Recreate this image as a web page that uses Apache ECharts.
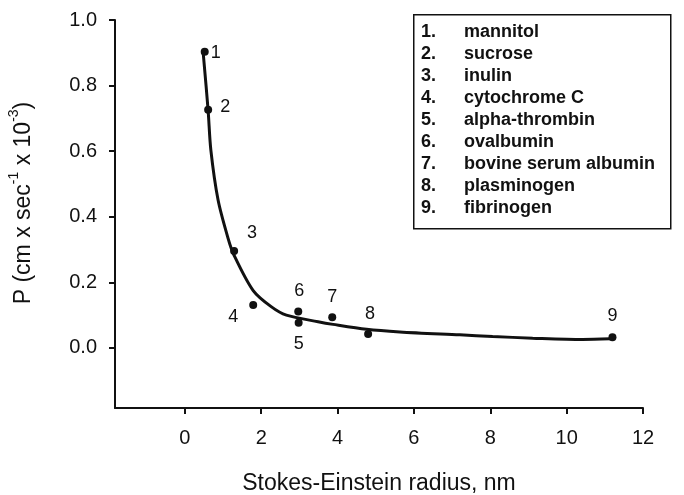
<!DOCTYPE html>
<html>
<head>
<meta charset="utf-8">
<script src="https://cdn.jsdelivr.net/npm/echarts@6/dist/echarts.min.js"></script>
<style>
  html, body { margin: 0; padding: 0; background: #fff; }
  #chart { width: 684px; height: 495px; }
</style>
</head>
<body>
<div id="chart"></div>
<script>
  // measured points (Stokes-Einstein radius nm, P)
  const pointIds = ['1', '2', '3', '4', '5', '6', '7', '8', '9'];
  const radius = [0.52, 0.61, 1.29, 1.79, 2.98, 2.97, 3.86, 4.80, 11.2];
  const permeability = [0.903, 0.726, 0.296, 0.131, 0.077, 0.111, 0.094, 0.043, 0.033];

  // fitted curve
  const fitRadius = [0.48, 0.61, 0.68, 0.87, 1.13, 1.28, 1.79, 2.26, 2.66, 3.49, 3.88, 4.76, 5.63, 7.20, 8.06, 9.11, 10.42, 11.15];
  const fitP = [0.900, 0.723, 0.604, 0.451, 0.335, 0.285, 0.175, 0.126, 0.100, 0.080, 0.072, 0.057, 0.049, 0.040, 0.035, 0.030, 0.026, 0.028];

  const molecules = ['mannitol', 'sucrose', 'inulin', 'cytochrome C', 'alpha-thrombin',
    'ovalbumin', 'bovine serum albumin', 'plasminogen', 'fibrinogen'];

  const xTicks = [0, 2, 4, 6, 8, 10, 12];
  const yTicks = [0, 0.2, 0.4, 0.6, 0.8, 1.0];

  // label placement per point (px)
  const labelOffsets = [[11, 1], [17, -3], [18, -18], [-20, 12], [0, 21], [1, -21], [0, -20], [2, -20], [0, -21]];

  const font = '"Liberation Sans", Arial, sans-serif';
  const ink = '#111';

  const chart = echarts.init(document.getElementById('chart'));

  const legendItems = [];
  molecules.forEach((name, i) => {
    const y = 33 + i * 22;
    legendItems.push({
      type: 'text', left: 421, top: y - 10,
      style: { text: (i + 1) + '.', font: 'bold 18px ' + font, fill: ink }
    });
    legendItems.push({
      type: 'text', left: 464, top: y - 10,
      style: { text: name, font: 'bold 18px ' + font, fill: ink }
    });
  });

  chart.setOption({
    animation: false,
    backgroundColor: '#fff',
    grid: { left: 115, right: 41, top: 20, bottom: 87, outerBoundsMode: 'none', containLabel: false },
    xAxis: {
      type: 'value',
      min: -1.83,
      max: 12,
      name: 'Stokes-Einstein radius, nm',
      nameLocation: 'middle',
      nameGap: 64,
      nameTextStyle: { fontFamily: font, fontSize: 23, color: ink },
      splitLine: { show: false },
      axisLine: { onZero: false, lineStyle: { color: ink, width: 2 } },
      axisTick: { show: true, customValues: xTicks, length: 6, lineStyle: { color: ink, width: 2 } },
      axisLabel: { customValues: xTicks, margin: 20, fontFamily: font, fontSize: 20, color: ink }
    },
    yAxis: {
      type: 'value',
      min: -0.183,
      max: 1.0,
      name: '{n|P (cm x sec}{s|-1}{n| x 10}{s|-3}{n|)}',
      nameLocation: 'middle',
      nameRotate: 90,
      nameGap: 80,
      nameTextStyle: {
        fontFamily: font, fontSize: 23, color: ink,
        padding: [0, 0, 0, 22],
        rich: {
          n: { fontFamily: font, fontSize: 23, color: ink, lineHeight: 28, verticalAlign: 'bottom' },
          s: { fontFamily: font, fontSize: 14, color: ink, lineHeight: 28, verticalAlign: 'top' }
        }
      },
      splitLine: { show: false },
      axisLine: { onZero: false, lineStyle: { color: ink, width: 2 } },
      axisTick: { show: true, customValues: yTicks, length: 6, lineStyle: { color: ink, width: 2 } },
      axisLabel: {
        customValues: yTicks, margin: 18, fontFamily: font, fontSize: 20, color: ink,
        formatter: v => v.toFixed(1)
      }
    },
    graphic: [
      {
        type: 'rect', left: 413, top: 14,
        shape: { width: 257, height: 214 },
        style: { fill: '#fff', stroke: ink, lineWidth: 1.5 }
      }
    ].concat(legendItems),
    series: [
      {
        type: 'line',
        data: fitRadius.map((x, i) => [x, fitP[i]]),
        smooth: 0.3,
        showSymbol: false,
        symbol: 'none',
        lineStyle: { color: ink, width: 3 },
        silent: true
      },
      {
        type: 'scatter',
        data: radius.map((x, i) => ({
          value: [x, permeability[i]],
          label: { offset: labelOffsets[i] }
        })),
        symbolSize: 8,
        itemStyle: { color: ink, opacity: 1 },
        label: {
          show: true,
          position: 'inside',
          formatter: p => pointIds[p.dataIndex],
          fontFamily: font,
          fontSize: 18,
          color: ink
        },
        z: 3
      }
    ]
  });

  window.addEventListener('resize', () => chart.resize());
</script>
</body>
</html>
